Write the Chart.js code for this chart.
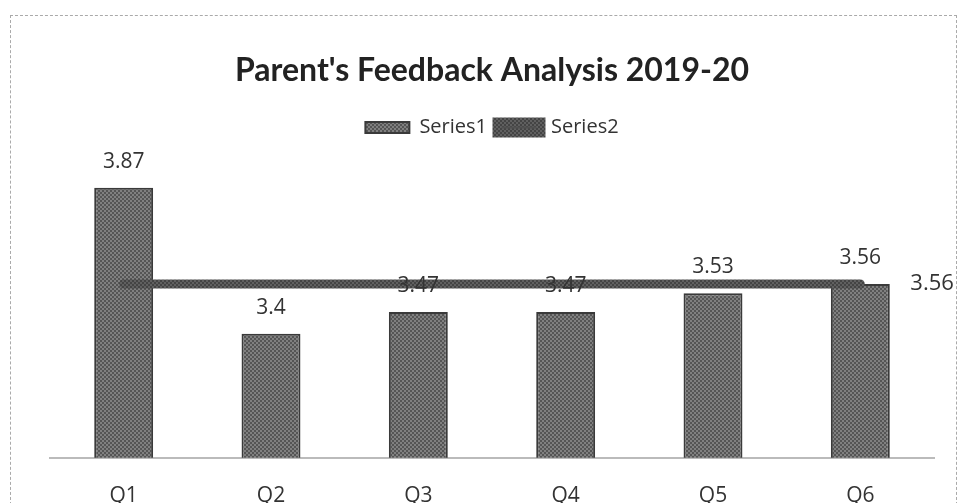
<!DOCTYPE html>
<html>
<head>
<meta charset="utf-8">
<script src="https://cdn.jsdelivr.net/npm/chart.js@4/dist/chart.umd.min.js"></script>
<style>
  html, body { margin: 0; padding: 0; background: #fff; }
  #wrap { position: relative; width: 966px; height: 503px; }
  #frame { position: absolute; left: 10px; top: 15px; width: 947px; height: 490px;
           border: 1px dashed #aaa; box-sizing: border-box; }
  canvas { position: absolute; left: 0; top: 0; }
</style>
</head>
<body>
<div id="wrap">
  <div id="frame"></div>
  <canvas id="feedbackChart" width="966" height="503"></canvas>
</div>
<script>
// datos
const categorias = ["Q1", "Q2", "Q3", "Q4", "Q5", "Q6"];
const serie1 = [3.87, 3.4, 3.47, 3.47, 3.53, 3.56];
const serie2 = [3.56, 3.56, 3.56, 3.56, 3.56, 3.56];

// textura gris punteada tipo fotocopia
function texture(light, dark) {
  const c = document.createElement("canvas");
  c.width = 4;
  c.height = 4;
  const g = c.getContext("2d");
  g.fillStyle = light;
  g.fillRect(0, 0, 4, 4);
  g.fillStyle = dark;
  g.fillRect(0, 0, 2, 2);
  g.fillRect(2, 2, 2, 2);
  return g.createPattern(c, "repeat");
}

const ctx = document.getElementById("feedbackChart").getContext("2d");
const barFill = texture("#808080", "#555555");
const lineFill = texture("#606060", "#444444");

// etiquetas de valores
const valueLabels = {
  id: "valueLabels",
  afterDatasetsDraw(chart) {
    const c = chart.ctx;
    c.save();
    c.fillStyle = "#333";
    c.font = "21px 'Open Sans', sans-serif";
    c.textAlign = "center";
    c.textBaseline = "middle";
    chart.getDatasetMeta(0).data.forEach((bar, i) => {
      c.fillText(String(serie1[i]), bar.x, bar.y - 26);
    });
    const pts = chart.getDatasetMeta(1).data;
    const last = pts[pts.length - 1];
    c.font = "22px 'Open Sans', sans-serif";
    c.textAlign = "left";
    c.fillText(String(serie2[serie2.length - 1]), last.x + 50, last.y);
    c.restore();
  },
};

new Chart(ctx, {
  data: {
    labels: categorias,
    datasets: [
      {
        type: "bar",
        label: "Series1",
        data: serie1,
        backgroundColor: barFill,
        borderColor: "#3a3a3a",
        borderWidth: 2,
        barPercentage: 0.4,
        categoryPercentage: 1,
        order: 2,
      },
      {
        type: "line",
        label: "Series2",
        data: serie2,
        borderColor: lineFill,
        backgroundColor: "#505050",
        borderWidth: 9,
        borderCapStyle: "round",
        pointRadius: 0,
        order: 1,
      },
    ],
  },
  options: {
    responsive: false,
    animation: false,
    layout: { padding: { left: 50, right: 32, top: 0, bottom: -24 } },
    plugins: {
      title: {
        display: true,
        text: "Parent's Feedback Analysis 2019-20",
        color: "#222",
        font: { family: "Lato", size: 32, weight: "bold" },
        padding: { top: 51, bottom: 18 },
      },
      legend: {
        labels: {
          color: "#333",
          font: { family: "'Open Sans'", size: 20 },
          boxWidth: 44,
          boxHeight: 11,
          sort: (a, b) => a.datasetIndex - b.datasetIndex,
        },
      },
      tooltip: { enabled: false },
    },
    scales: {
      x: {
        grid: { display: false },
        border: { display: true, color: "#bbb", width: 2, dash: [2, 2] },
        ticks: { color: "#333", font: { family: "'Open Sans'", size: 21 }, padding: 18 },
      },
      y: {
        display: false,
        min: 3,
        max: 4,
      },
    },
  },
  plugins: [valueLabels],
});
</script>
</body>
</html>
